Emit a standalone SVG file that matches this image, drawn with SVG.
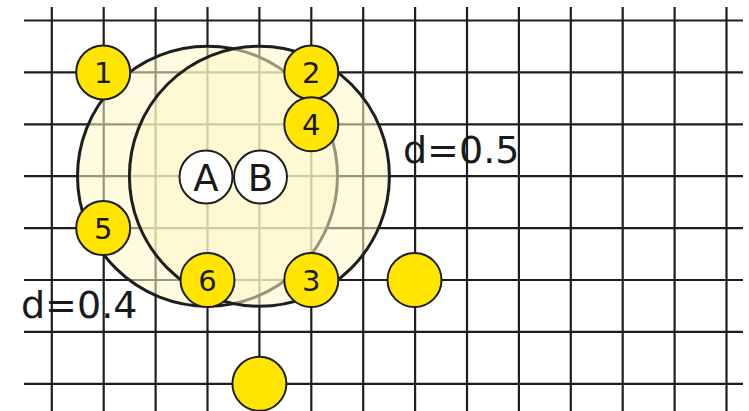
<svg xmlns="http://www.w3.org/2000/svg" width="749" height="411" viewBox="0 0 749 411">
<style>
.g line{stroke:#1e1e1e;stroke-width:2.2}
.big{fill:#fff8c8;fill-opacity:0.55;stroke:#1e1e1e;stroke-width:3}
.y{fill:#ffe500;stroke:#1e1e1e;stroke-width:2}
.w{fill:#ffffff;stroke:#1e1e1e;stroke-width:2}
.t{font-family:"DejaVu Sans",sans-serif;fill:#1a1a1a;text-anchor:middle}
.n{font-size:29px}
.ab{font-size:37px}
.d{font-family:"DejaVu Sans",sans-serif;fill:#1a1a1a;font-size:38px}
</style>
<rect width="749" height="411" fill="#ffffff"/>
<g id="grid" class="g">
<line x1="51.8" y1="7" x2="51.8" y2="411"/>
<line x1="103.7" y1="7" x2="103.7" y2="411"/>
<line x1="155.6" y1="7" x2="155.6" y2="411"/>
<line x1="207.5" y1="7" x2="207.5" y2="411"/>
<line x1="259.4" y1="7" x2="259.4" y2="411"/>
<line x1="311.3" y1="7" x2="311.3" y2="411"/>
<line x1="363.2" y1="7" x2="363.2" y2="411"/>
<line x1="415.1" y1="7" x2="415.1" y2="411"/>
<line x1="467" y1="7" x2="467" y2="411"/>
<line x1="518.9" y1="7" x2="518.9" y2="411"/>
<line x1="570.8" y1="7" x2="570.8" y2="411"/>
<line x1="622.7" y1="7" x2="622.7" y2="411"/>
<line x1="674.6" y1="7" x2="674.6" y2="411"/>
<line x1="726.5" y1="7" x2="726.5" y2="411"/>
<line x1="24" y1="20.5" x2="743" y2="20.5"/>
<line x1="24" y1="72.4" x2="743" y2="72.4"/>
<line x1="24" y1="124.3" x2="743" y2="124.3"/>
<line x1="24" y1="176.2" x2="743" y2="176.2"/>
<line x1="24" y1="228.1" x2="743" y2="228.1"/>
<line x1="24" y1="280" x2="743" y2="280"/>
<line x1="24" y1="331.9" x2="743" y2="331.9"/>
<line x1="24" y1="383.8" x2="743" y2="383.8"/>
</g>
<g id="circleA"><circle class="big" cx="207.5" cy="176.2" r="130"/></g>
<g id="circleB"><circle class="big" cx="259.4" cy="176.2" r="130"/></g>
<g id="connectors"></g>
<g id="nodeA"><circle class="w" cx="206" cy="177" r="26.5"/><text class="t ab" x="206" y="190.5">A</text></g>
<g id="nodeB"><circle class="w" cx="260.5" cy="177" r="26.5"/><text class="t ab" x="260.5" y="190.5">B</text></g>
<g id="node1"><circle class="y" cx="103.2" cy="72.4" r="27"/><text class="t n" x="103.2" y="83">1</text></g>
<g id="node2"><circle class="y" cx="311.3" cy="72.4" r="27"/><text class="t n" x="311.3" y="83">2</text></g>
<g id="node4"><circle class="y" cx="311.3" cy="124.3" r="27"/><text class="t n" x="311.3" y="135">4</text></g>
<g id="node5"><circle class="y" cx="103.2" cy="228.1" r="27"/><text class="t n" x="103.2" y="238.7">5</text></g>
<g id="node6"><circle class="y" cx="207.5" cy="280" r="27"/><text class="t n" x="207.5" y="290.6">6</text></g>
<g id="node3"><circle class="y" cx="311.3" cy="280" r="27"/><text class="t n" x="311.3" y="290.6">3</text></g>
<g id="node7"><circle class="y" cx="414.5" cy="280" r="27"/></g>
<g id="node8"><circle class="y" cx="259.4" cy="383.8" r="27"/></g>
<g id="labels">
<text class="d" x="403" y="163">d=0.5</text>
<text class="d" x="21" y="318">d=0.4</text>
</g>
</svg>
